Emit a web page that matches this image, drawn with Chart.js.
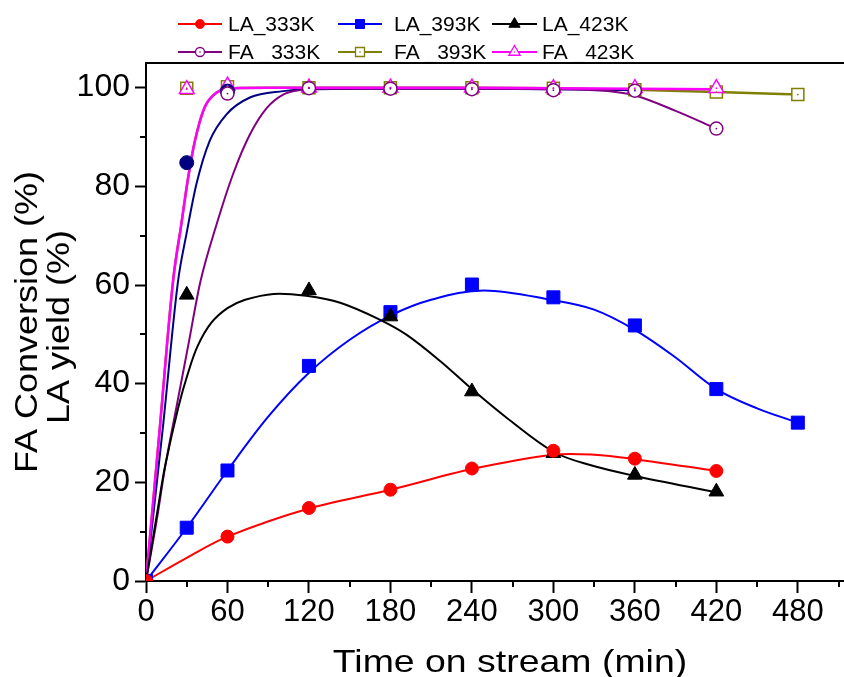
<!DOCTYPE html>
<html><head><meta charset="utf-8">
<script src="https://cdn.jsdelivr.net/npm/chart.js@4.4.1/dist/chart.umd.min.js"></script>
<style>html,body{margin:0;padding:0;background:#fff;}#wrap{width:844px;height:677px;}</style>
</head><body><div id="wrap"><canvas id="c" width="844" height="677"></canvas></div>
<script>
// ---- tick labels ----
const xTickLabels = [0,60,120,180,240,300,360,420,480];
const yTickLabels = [0,20,40,60,80,100];
const seriesNames = ['LA_333K','LA_393K','LA_423K','FA _333K','FA _393K','FA _423K'];

// ---- measured points (markers) ----
const la333X = [0,60,120,180,240,300,360,420];
const la333Y = [0,9.0,14.8,18.5,22.8,26.4,24.8,22.3];
const la393X = [0,30,60,120,180,240,300,360,420,480];
const la393Y = [0,10.8,22.4,43.6,54.5,60.1,57.5,51.8,38.9,32.1];
const la423X = [0,30,120,180,240,300,360,420];
const la423Y = [0,58.0,58.9,53.6,38.4,25.9,21.5,18.1];
const fa333X = [0,60,120,180,240,300,360,420];
const fa333Y = [0,98.8,99.9,99.8,99.7,99.5,99.4,91.7];
const fa393X = [0,30,60,120,180,240,300,360,420,480];
const fa393Y = [0,99.9,100.2,100,100,100,99.9,99.6,99.1,98.6];
const fa423X = [0,30,60,120,180,240,300,360,420];
const fa423Y = [0,99.7,100.4,100,100,100,99.9,99.9,99.9];
const extraX = [0,30,60];
const extraY = [0,84.8,99.3];

// ---- fitted curves ----
const fitLa333X = [0,30,60,120,180,240,300,330,360,420];
const fitLa333Y = [0,4.7,9.0,14.7,18.5,22.7,25.6,25.6,24.7,22.3];
const fitLa393X = [0,30,60,90,120,150,180,210,249,300,330,360,389,420,450,480];
const fitLa393Y = [0,10.8,22.4,33.3,42.2,48.9,53.8,57.0,58.9,56.9,55.0,50.9,45.5,38.9,35.0,32.1];
const fitLa423X = [0,9,14,24,31,38,48,60,73,94,118,143,172,192,217,240,266,300,327,360,420];
const fitLa423Y = [0,15.1,23.2,35.4,42.2,47.6,52.3,55.3,57.0,58.2,57.8,56.4,53.0,49.9,44.5,38.9,33.0,26.2,23.5,21.3,18.0];
const fitFa333X = [0,8,14,23.5,31,40,52,64,76.5,89,101,113,130,180,240,300,340,360,390,420];
const fitFa333Y = [0,12.5,23,36.8,47.6,60.6,72.3,82.4,90.5,95.9,98.6,99.5,99.8,99.8,99.8,99.7,99.3,98.4,95.3,91.7];
const fitFa393X = [0,10,20,26,31,36,43,52,64,90,120,180,240,300,360,420,480];
const fitFa393Y = [0,30.5,61,72.3,81.7,89.2,95.9,99,99.9,100,100,100,100,99.9,99.6,99.1,98.6];
const fitFa423X = [0,10,20,26,31,36,43,52,64,90,120,180,240,300,360,420];
const fitFa423Y = [0,30.5,61,72.3,81.7,89.2,95.9,99,99.9,100,100,100,100,99.9,99.8,99.7];
const fitExtraX = [0,12.5,23.5,29.7,37.1,46.9,59.3,76.5,101,120,180,240,300,360];
const fitExtraY = [0,31.3,60.6,70.2,80.4,89.2,94.6,98,99.3,99.7,99.8,99.8,99.7,99.5];

const pts = (xs, ys) => xs.map((x, i) => ({x, y: ys[i]}));
const FONT = "'Liberation Sans', Arial, sans-serif";

const C = {red:'#ff0000', blue:'#0000ff', black:'#000000', purple:'#800080', olive:'#808000', magenta:'#ff00ff', navy:'#000080'};

function fit(xs, ys, color, order, w, smooth) {
  const d = {data: pts(xs, ys), showLine: true, borderColor: color, borderWidth: w || 2,
    pointRadius: 0, pointHoverRadius: 0, fill: false, order};
  if (smooth) { d.tension = 0.35; } else { d.cubicInterpolationMode = 'monotone'; }
  return d;
}
function mark(xs, ys, color, style, r, hollow, order) {
  return {data: pts(xs, ys), showLine: false, pointStyle: style, pointRadius: r, pointHoverRadius: r,
    pointBackgroundColor: hollow ? '#ffffff' : color, pointBorderColor: color,
    pointBorderWidth: hollow ? 1.5 : 1, order, hollow};
}

const datasets = [
  fit(fitFa393X, fitFa393Y, C.olive, 20, 2.5),
  fit(fitExtraX, fitExtraY, C.navy, 19, 2),
  fit(fitFa333X, fitFa333Y, C.purple, 18, 2),
  fit(fitFa423X, fitFa423Y, C.magenta, 17, 2.5),
  fit(fitLa393X, fitLa393Y, C.blue, 16, 2, true),
  fit(fitLa423X, fitLa423Y, C.black, 15, 2, true),
  fit(fitLa333X, fitLa333Y, C.red, 14, 2, true),
  mark(fa393X, fa393Y, C.olive, 'rect', 8.5, true, 9),
  mark(fa423X, fa423Y, C.magenta, 'triangle', 8.5, true, 8),
  mark(extraX, extraY, C.navy, 'circle', 7, false, 7),
  mark(fa333X, fa333Y, C.purple, 'circle', 6.5, true, 6),
  mark(la393X, la393Y, C.blue, 'rect', 9.2, false, 5),
  mark(la423X, la423Y, C.black, 'triangle', 8.5, false, 4),
  mark(la333X, la333Y, C.red, 'circle', 6.5, false, 3)
];

const legendItems = [
  {name: seriesNames[0], color: C.red, style: 'circle', r: 4.5, hollow: false, col: 0, row: 0},
  {name: seriesNames[1], color: C.blue, style: 'rect', r: 4.5, hollow: false, col: 1, row: 0},
  {name: seriesNames[2], color: C.black, style: 'triangle', r: 6.5, hollow: false, col: 2, row: 0},
  {name: seriesNames[3], color: C.purple, style: 'circle', r: 4.5, hollow: true, col: 0, row: 1},
  {name: seriesNames[4], color: C.olive, style: 'rect', r: 4.5, hollow: true, col: 1, row: 1},
  {name: seriesNames[5], color: C.magenta, style: 'triangle', r: 6.5, hollow: true, col: 2, row: 1}
];

function drawMarker(ctx, style, x, y, r, color, hollow) {
  ctx.beginPath();
  if (style === 'circle') ctx.arc(x, y, r, 0, Math.PI * 2);
  else if (style === 'rect') ctx.rect(x - r, y - r, 2 * r, 2 * r);
  else { ctx.moveTo(x, y - r); ctx.lineTo(x + 0.866 * r, y + 0.5 * r); ctx.lineTo(x - 0.866 * r, y + 0.5 * r); ctx.closePath(); }
  ctx.fillStyle = hollow ? '#fff' : color;
  ctx.fill();
  ctx.lineWidth = hollow ? 1.3 : 1;
  ctx.strokeStyle = color;
  ctx.stroke();
}

const extras = {
  id: 'extras',
  afterDatasetsDraw(chart) {
    const ctx = chart.ctx, a = chart.chartArea;
    chart.data.datasets.forEach((ds, i) => {
      if (!ds.hollow) return;
      chart.getDatasetMeta(i).data.forEach(p => {
        if (p.x <= a.left + 2 || p.y >= a.bottom - 2) return;
        ctx.beginPath(); ctx.arc(p.x, p.y, 0.9, 0, Math.PI * 2);
        ctx.fillStyle = ds.pointBorderColor; ctx.fill();
      });
    });
  },
  afterDraw(chart) {
    const ctx = chart.ctx, a = chart.chartArea;
    const xs = chart.scales.x, ys = chart.scales.y;
    ctx.save();
    ctx.strokeStyle = '#000'; ctx.lineWidth = 2;
    xs.ticks.forEach(t => {
      if (xTickLabels.includes(t.value)) return;
      const px = Math.round(xs.getPixelForValue(t.value));
      ctx.beginPath(); ctx.moveTo(px, a.bottom); ctx.lineTo(px, a.bottom + 6); ctx.stroke();
    });
    ys.ticks.forEach(t => {
      if (yTickLabels.includes(t.value)) return;
      const py = Math.round(ys.getPixelForValue(t.value));
      ctx.beginPath(); ctx.moveTo(a.left, py); ctx.lineTo(a.left - 6, py); ctx.stroke();
    });
    ctx.beginPath(); ctx.moveTo(a.left - 1, a.top); ctx.lineTo(a.right, a.top); ctx.stroke();
    // axis titles
    ctx.fillStyle = '#000';
    ctx.font = '32px ' + FONT;
    ctx.textAlign = 'center'; ctx.textBaseline = 'alphabetic';
    ctx.save(); ctx.translate(510, 672); ctx.scale(1.17, 1); ctx.fillText('Time on stream (min)', 0, 0); ctx.restore();
    ctx.font = '31px ' + FONT;
    ctx.save(); ctx.translate(37, 322); ctx.rotate(-Math.PI / 2); ctx.scale(1.16, 1); ctx.fillText('FA Conversion (%)', 0, 0); ctx.restore();
    ctx.save(); ctx.translate(69, 327); ctx.rotate(-Math.PI / 2); ctx.scale(1.16, 1); ctx.fillText('LA yield (%)', 0, 0); ctx.restore();
    // legend
    const lineX = [[178, 222], [338, 382], [492, 537]];
    const textX = [228, 394, 542];
    const rowY = [24, 52];
    ctx.font = '21px ' + FONT;
    ctx.textAlign = 'left'; ctx.textBaseline = 'middle';
    legendItems.forEach(it => {
      const [x1, x2] = lineX[it.col], y = rowY[it.row];
      ctx.strokeStyle = it.color; ctx.lineWidth = 2.2;
      ctx.beginPath(); ctx.moveTo(x1, y); ctx.lineTo(x2, y); ctx.stroke();
      drawMarker(ctx, it.style, (x1 + x2) / 2, y, it.r, it.color, it.hollow);
      if (it.hollow) { ctx.beginPath(); ctx.arc((x1 + x2) / 2, y, 0.8, 0, Math.PI * 2); ctx.fillStyle = it.color; ctx.fill(); }
      ctx.fillStyle = '#000';
      ctx.fillText(it.name, textX[it.col], y + 1);
    });
    ctx.restore();
  }
};

new Chart(document.getElementById('c').getContext('2d'), {
  type: 'scatter',
  data: {datasets},
  options: {
    responsive: false, animation: false, devicePixelRatio: 1,
    layout: {autoPadding: false, padding: {left: 0, top: 63, right: 0, bottom: 0}},
    plugins: {legend: {display: false}, tooltip: {enabled: false}},
    scales: {
      x: {
        type: 'linear', min: 0, max: 514,
        afterFit(s) { s.height = 96; },
        ticks: {stepSize: 30, includeBounds: false, autoSkip: false, maxRotation: 0, padding: 1,
          color: '#000', font: {family: FONT, size: 31},
          callback: v => xTickLabels.includes(v) ? String(v) : ''},
        grid: {drawOnChartArea: false, drawTicks: true, tickLength: 12, tickWidth: 2,
          tickColor: c => (c.tick && xTickLabels.includes(c.tick.value)) ? '#000' : 'rgba(0,0,0,0)'},
        border: {display: true, color: '#000', width: 2}
      },
      y: {
        type: 'linear', min: 0, max: 105,
        afterFit(s) { s.width = 146; },
        ticks: {stepSize: 10, includeBounds: false, autoSkip: false, padding: 5,
          color: '#000', font: {family: FONT, size: 32},
          callback: v => yTickLabels.includes(v) ? String(v) : ''},
        grid: {drawOnChartArea: false, drawTicks: true, tickLength: 11, tickWidth: 2,
          tickColor: c => (c.tick && yTickLabels.includes(c.tick.value)) ? '#000' : 'rgba(0,0,0,0)'},
        border: {display: true, color: '#000', width: 2}
      }
    }
  },
  plugins: [extras]
});
</script></body></html>
